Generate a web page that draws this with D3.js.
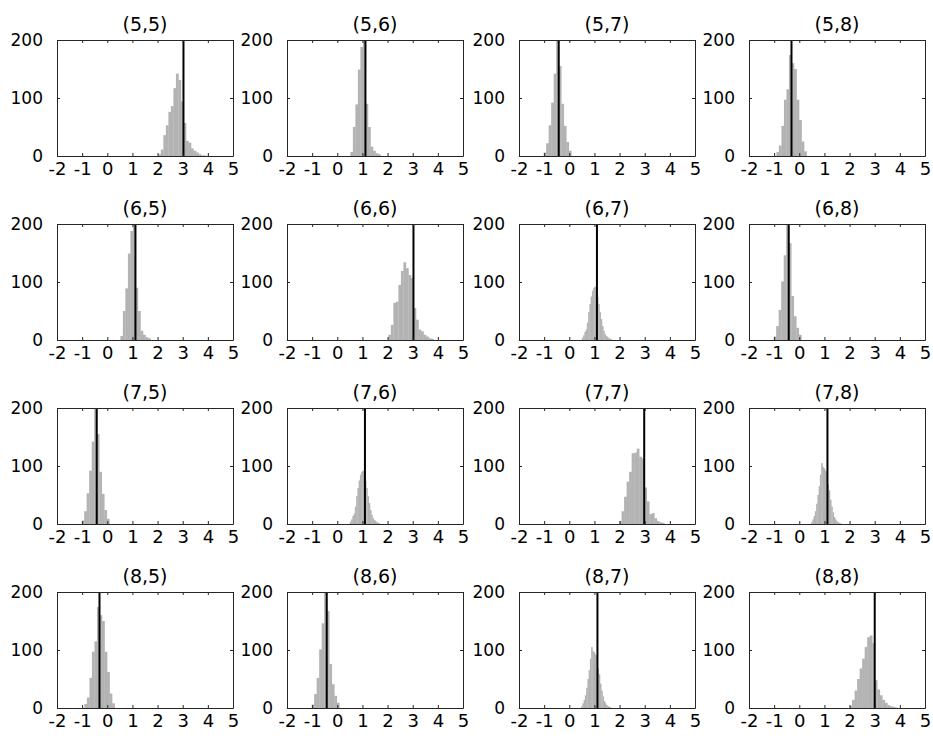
<!DOCTYPE html>
<html><head><meta charset="utf-8">
<script src="https://cdn.jsdelivr.net/npm/d3@7"></script>
<style>
html,body{margin:0;padding:0;background:#fff;}
svg{display:block;}
text{font-family:"DejaVu Sans",Arial,sans-serif;fill:#000;}
</style></head>
<body>
<svg id="chart" width="933" height="739"></svg>
<script>
// ---- data ----
const rowIdx = [5, 6, 7, 8];
const colIdx = [5, 6, 7, 8];
const xTicks = [-2, -1, 0, 1, 2, 3, 4, 5];
const yTicks = [0, 100, 200];

// histogram counts (bin start, bin width, counts) and true value per unique pair
const counts55 = [3, 11, 36, 53, 76, 86, 117, 142, 131, 94, 57, 26, 23, 13, 9, 6, 3, 1, 1];
const start55 = 2.03, width55 = 0.1, true55 = 3.03;

const counts56 = [7, 50, 89, 149, 188, 205, 90, 50, 16, 9, 5, 3];
const start56 = 0.52, width56 = 0.1, true56 = 1.12;

const counts57 = [6, 22, 53, 92, 142, 200, 155, 90, 52, 24, 9];
const start57 = -1.02, width57 = 0.1, true57 = -0.42;

const counts58 = [7, 18, 52, 97, 115, 174, 160, 150, 97, 62, 25, 8];
const start58 = -0.91, width58 = 0.1, true58 = -0.31;

const counts66 = [9, 26, 64, 66, 95, 119, 134, 124, 112, 107, 55, 35, 18, 15, 9, 6, 3, 2];
const start66 = 2.03, width66 = 0.1, true66 = 3.03;

const counts67 = [4, 8, 14, 18, 30, 48, 62, 75, 85, 90, 92, 91, 74, 62, 48, 36, 24, 16, 10, 7, 5, 3, 2, 1];
const start67 = 0.5, width67 = 0.05, true67 = 1.1;

const counts68 = [6, 24, 52, 101, 146, 200, 167, 76, 41, 21, 9];
const start68 = -1.02, width68 = 0.1, true68 = -0.42;

const counts77 = [5, 22, 47, 73, 90, 122, 123, 130, 116, 113, 63, 39, 17, 19, 10, 5, 3, 2];
const start77 = 1.98, width77 = 0.1, true77 = 2.98;

const counts78 = [3, 8, 14, 22, 35, 50, 65, 85, 105, 98, 96, 92, 88, 68, 58, 42, 30, 20, 12, 8, 5, 3, 2, 1];
const start78 = 0.47, width78 = 0.05, true78 = 1.12;

const counts88 = [4, 14, 30, 50, 68, 85, 105, 122, 125, 112, 48, 32, 22, 14, 9, 5, 3, 2, 1];
const start88 = 2.0, width88 = 0.1, true88 = 3.0;

// table of unique pairs (symmetric matrix)
const pairTable = {
  "5,5": [counts55, start55, width55, true55],
  "5,6": [counts56, start56, width56, true56],
  "5,7": [counts57, start57, width57, true57],
  "5,8": [counts58, start58, width58, true58],
  "6,6": [counts66, start66, width66, true66],
  "6,7": [counts67, start67, width67, true67],
  "6,8": [counts68, start68, width68, true68],
  "7,7": [counts77, start77, width77, true77],
  "7,8": [counts78, start78, width78, true78],
  "8,8": [counts88, start88, width88, true88]
};

// ---- layout ----
const plotLeft = [57, 287, 519, 749];
const plotTop = [40, 224, 408, 592];
const W = 176, H = 116;
const axisColor = "#262626";
const FONT = '"DejaVu Sans",Arial,sans-serif';

const svg = d3.select("#chart");

rowIdx.forEach((r, ri) => {
  colIdx.forEach((c, ci) => {
    const a = Math.min(r, c), b = Math.max(r, c);
    const [counts, start, width, trueVal] = pairTable[a + "," + b];
    const bins = counts.map((n, i) => ({x0: start + i * width, x1: start + (i + 1) * width, n}));

    const x = d3.scaleLinear().domain([-2, 5]).range([0, W]);
    const y = d3.scaleLinear().domain([0, 200]).range([H, 0]).clamp(true);

    const g = svg.append("g").attr("transform", `translate(${plotLeft[ci]},${plotTop[ri]})`);

    g.selectAll("rect.bar").data(bins).enter().append("rect")
      .attr("class", "bar")
      .attr("x", d => x(d.x0))
      .attr("width", d => x(d.x1) - x(d.x0) + 0.3)
      .attr("y", d => y(d.n))
      .attr("height", d => H - y(d.n))
      .attr("fill", "#b3b3b3");

    g.append("line")
      .attr("x1", x(trueVal)).attr("x2", x(trueVal))
      .attr("y1", y(0)).attr("y2", y(200))
      .attr("stroke", "#000").attr("stroke-width", 2);

    const styleAxis = size => sel => {
      sel.attr("font-size", size).attr("font-family", FONT);
      sel.selectAll("path.domain").attr("stroke", axisColor).attr("stroke-width", 1);
      sel.selectAll(".tick line").attr("stroke", axisColor).attr("stroke-width", 1);
      sel.selectAll("text").attr("fill", "#000");
    };

    const fmt = d => String(d);

    g.append("g").attr("transform", `translate(0,${H})`)
      .call(d3.axisBottom(x).tickValues(xTicks).tickSizeInner(-3).tickSizeOuter(0).tickPadding(6).tickFormat(fmt))
      .call(styleAxis(18));
    g.append("g")
      .call(d3.axisTop(x).tickValues(xTicks).tickSizeInner(-3).tickSizeOuter(0).tickFormat(""))
      .call(styleAxis(18));
    g.append("g")
      .call(d3.axisLeft(y).tickValues(yTicks).tickSizeInner(-3).tickSizeOuter(0).tickPadding(14).tickFormat(fmt))
      .call(styleAxis(17));
    g.append("g").attr("transform", `translate(${W},0)`)
      .call(d3.axisRight(y).tickValues(yTicks).tickSizeInner(-3).tickSizeOuter(0).tickFormat(""))
      .call(styleAxis(17));

    g.append("text")
      .attr("x", W / 2).attr("y", -9)
      .attr("text-anchor", "middle")
      .attr("font-size", 19)
      .attr("font-family", FONT)
      .text(`(${r},${c})`);
  });
});
</script>
</body></html>
